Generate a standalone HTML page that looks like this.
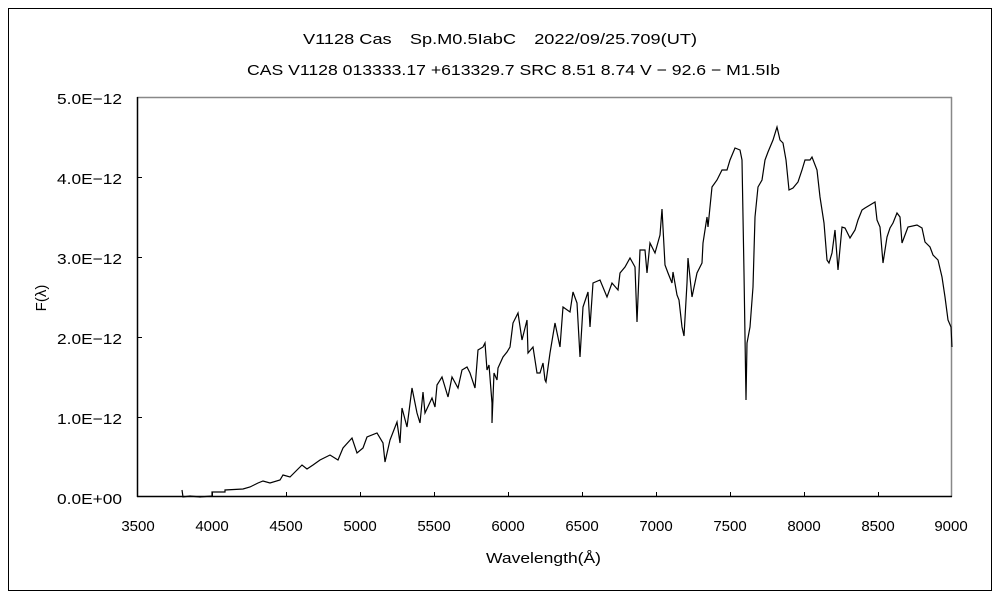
<!DOCTYPE html>
<html><head><meta charset="utf-8"><style>
html,body{margin:0;padding:0;background:#fff;}
svg{display:block;}
text{font-family:"Liberation Sans","Noto Sans CJK JP",sans-serif;font-size:15px;fill:#000;}
</style></head><body>
<svg width="1000" height="600" viewBox="0 0 1000 600" xmlns="http://www.w3.org/2000/svg">
<rect x="0" y="0" width="1000" height="600" fill="#fff"/>
<rect x="8.5" y="8.5" width="983" height="582" fill="none" stroke="#000" stroke-width="1"/>
<text x="303" y="44" textLength="394" lengthAdjust="spacingAndGlyphs">V1128 Cas　Sp.M0.5IabC　2022/09/25.709(UT)</text>
<text x="247" y="75" textLength="533" lengthAdjust="spacingAndGlyphs">CAS V1128 013333.17 +613329.7 SRC 8.51 8.74 V − 92.6 − M1.5Ib</text>
<line x1="137" y1="97.5" x2="952" y2="97.5" stroke="#888" stroke-width="1.5"/>
<line x1="951.5" y1="97" x2="951.5" y2="497" stroke="#888" stroke-width="1.5"/>
<line x1="137.5" y1="97" x2="137.5" y2="497" stroke="#000" stroke-width="1.5"/>
<line x1="137" y1="496.5" x2="952" y2="496.5" stroke="#000" stroke-width="1.5"/>
<g stroke="#000" stroke-width="1">
<line x1="137" y1="177.5" x2="142" y2="177.5"/><line x1="137" y1="257.5" x2="142" y2="257.5"/>
<line x1="137" y1="337.5" x2="142" y2="337.5"/><line x1="137" y1="417.5" x2="142" y2="417.5"/>
<line x1="286.5" y1="497" x2="286.5" y2="492"/><line x1="360.5" y1="497" x2="360.5" y2="492"/>
<line x1="434.5" y1="497" x2="434.5" y2="492"/><line x1="508.5" y1="497" x2="508.5" y2="492"/>
<line x1="582.5" y1="497" x2="582.5" y2="492"/><line x1="656.5" y1="497" x2="656.5" y2="492"/>
<line x1="730.5" y1="497" x2="730.5" y2="492"/><line x1="804.5" y1="497" x2="804.5" y2="492"/>
<line x1="878.5" y1="497" x2="878.5" y2="492"/><line x1="212.5" y1="497" x2="212.5" y2="492"/>
</g>
<g style="font-size:16px">
<text x="57" y="104" textLength="65" lengthAdjust="spacingAndGlyphs">5.0E−12</text>
<text x="57" y="184" textLength="65" lengthAdjust="spacingAndGlyphs">4.0E−12</text>
<text x="57" y="264" textLength="65" lengthAdjust="spacingAndGlyphs">3.0E−12</text>
<text x="57" y="344" textLength="65" lengthAdjust="spacingAndGlyphs">2.0E−12</text>
<text x="57" y="424" textLength="65" lengthAdjust="spacingAndGlyphs">1.0E−12</text>
<text x="57" y="504" textLength="65" lengthAdjust="spacingAndGlyphs">0.0E+00</text>
</g>
<g text-anchor="middle" style="font-size:16px">
<text x="138" y="531">3500</text><text x="212" y="531">4000</text><text x="286" y="531">4500</text>
<text x="360" y="531">5000</text><text x="434" y="531">5500</text><text x="508" y="531">6000</text>
<text x="582" y="531">6500</text><text x="656" y="531">7000</text><text x="730" y="531">7500</text>
<text x="804" y="531">8000</text><text x="878" y="531">8500</text><text x="951" y="531">9000</text>
</g>
<text x="486" y="563" textLength="115" lengthAdjust="spacingAndGlyphs">Wavelength(Å)</text>
<text x="0" y="0" text-anchor="middle" transform="translate(46,298) rotate(-90)">F(λ)</text>
<polyline fill="none" stroke="#000" stroke-width="1.2" points="
182,490 183,497 190,496 200,497 212,496 212,492 225,492 225,490 243,489 250,487 258,483 263,481 270,483 280,480 283,475 290,477 302,465 307,469 313,465 320,460 330,455 338,460 343,448 352,438 357,453 363,448 367,437 377,433 383,443 385,462 390,440 397,422 400,443 402,408 407,427 412,388 417,413 420,423 423,392 425,413 432,398 435,407 437,385 442,377 448,397 452,377 458,388 462,370 467,367 470,373 475,388 478,350 483,347 485,343 487,370 489,365 492,403 492,423 494,373 497,380 498,368 503,357 507,352 510,347 513,323 518,313 522,340 527,320 528,353 533,347 537,373 540,373 543,363 545,380 546,382 550,353 555,323 560,347 563,307 570,312 573,292 577,303 580,357 583,307 588,292 590,327 593,283 600,280 607,297 612,283 618,290 620,273 625,267 630,258 635,267 637,322 640,250 645,250 647,273 650,243 655,253 660,235 662,209 665,265 668,273 672,283 673,272 677,295 679,300 682,327 684,336 687,283 688,258 692,297 697,273 702,263 703,243 707,217 708,227 712,187 717,180 722,170 727,170 730,160 735,148 740,150 742,160 744,273 746,400 747,343 750,327 753,287 755,217 758,187 762,180 765,160 768,152 773,140 777,127 780,140 783,143 786,160 789,190 793,188 798,182 802,170 805,160 810,160 812,157 817,170 820,197 824,223 827,260 829,263 832,253 835,230 838,270 842,227 845,228 850,238 855,230 858,220 862,210 865,208 870,205 875,202 877,220 880,227 883,263 887,237 890,228 893,223 897,213 900,217 902,243 905,235 908,227 917,225 922,228 925,242 930,247 933,255 938,260 942,277 945,297 948,320 951,327 952,347"/>
</svg>
</body></html>
